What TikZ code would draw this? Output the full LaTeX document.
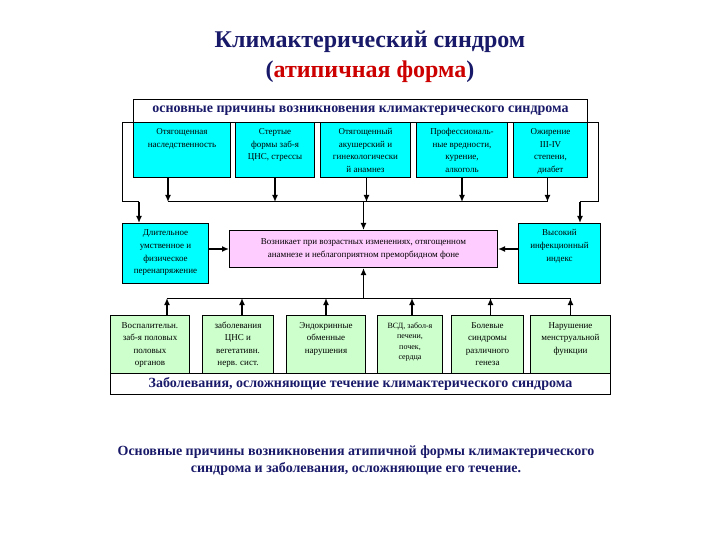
\documentclass[tikz,border=0pt]{standalone}
\usepackage{fontspec}
\setmainfont{Liberation Serif}
\usetikzlibrary{arrows.meta}
\definecolor{navy}{RGB}{25,25,105}
\definecolor{ttlred}{RGB}{205,0,0}
\definecolor{cyanbox}{RGB}{0,255,255}
\definecolor{pinkbox}{RGB}{255,204,255}
\definecolor{greenbox}{RGB}{204,255,204}
\newcommand\tb[3]{\parbox[t][\dimexpr#2pt-6pt\relax][t]{#1pt}{\centering\rule{0pt}{9.5pt}#3}}
\begin{document}
\begin{tikzpicture}[x=1pt,y=-1pt,line width=1pt,>={Latex[length=7pt,width=6pt]},
  every node/.style={inner sep=0pt,font=\fontsize{9}{12.5}\selectfont},
  bx/.style={draw,anchor=north west,inner xsep=0pt,inner ysep=3pt},
  cb/.style={bx,fill=cyanbox},
  gb/.style={bx,fill=greenbox},
  ar/.style={->,line width=1.6pt},
  ttl/.style={font=\fontsize{14}{17}\selectfont\bfseries,text=navy}]
\useasboundingbox (0,0) rectangle (720,540);
% title
\node[font=\fontsize{24}{30}\selectfont\bfseries,text=navy,align=center] (t) at (370,57)
  {Климактерический синдром\\(\textcolor{ttlred}{атипичная форма})};
% causes
\node[draw,ttl,minimum width=454,minimum height=23,anchor=north west] (hd) at (133,99)
  {основные причины возникновения климактерического синдрома};
\node[cb] (c1) at (133,122) {\tb{97}{55}{Отягощенная\\наследственность}};
\node[cb] (c2) at (235,122) {\tb{79}{55}{Стертые\\формы заб-я\\ЦНС, стрессы}};
\node[cb] (c3) at (320,122) {\tb{90}{55}{Отягощенный\\акушерский и\\гинекологически\\й анамнез}};
\node[cb] (c4) at (416,122) {\tb{91}{55}{Профессиональ-\\ные вредности,\\курение,\\алкоголь}};
\node[cb] (c5) at (513,122) {\tb{74}{55}{Ожирение\\III-IV\\степени,\\диабет}};
\node[cb] (lb) at (122,223) {\tb{86}{60}{Длительное\\умственное и\\физическое\\перенапряжение}};
\node[cb] (rb) at (518,223) {\tb{82}{60}{Высокий\\инфекционный\\индекс}};
\node[draw,fill=pinkbox,minimum width=268,minimum height=37,align=center,anchor=north west] (pk) at (229,230)
  {Возникает при возрастных изменениях, отягощенном\\анамнезе и неблагоприятном преморбидном фоне};
% diseases
\node[gb] (g1) at (110,315) {\tb{79}{58}{Воспалительн.\\заб-я половых\\половых\\органов}};
\node[gb] (g2) at (202,315) {\tb{71}{58}{заболевания\\ЦНС и\\вегетативн.\\нерв. сист.}};
\node[gb] (g3) at (286,315) {\tb{79}{58}{Эндокринные\\обменные\\нарушения}};
\node[gb] (g4) at (377,315) {\tb{65}{58}{\fontsize{8}{10.5}\selectfont ВСД, забол-я\\печени,\\почек,\\сердца}};
\node[gb] (g5) at (451,315) {\tb{72}{58}{Болевые\\синдромы\\различного\\генеза}};
\node[gb] (g6) at (530,315) {\tb{80}{58}{Нарушение\\менструальной\\функции}};
\node[draw,ttl,minimum width=500,minimum height=21,anchor=north west] (ft) at (110,373)
  {Заболевания, осложняющие течение климактерического синдрома};
\node[ttl,align=center] (cap) at (356,461)
  {Основные причины возникновения атипичной формы климактерического\\синдрома и заболевания, осложняющие его течение.};
% connectors
\coordinate (bt) at (0,202);
\coordinate (bb) at (0,298);
\foreach \n/\d in {c1/-14,c2/0,c3/1,c4/0,c5/-3}
  \draw[ar] ([xshift=\d]\n.south) -- ([xshift=\d]\n.south |- bt);
\draw ([xshift=-14]c1.south |- bt) -- ([xshift=-3]c5.south |- bt);
\draw[ar] (pk.north |- bt) -- (pk.north);
\draw (hd.south west) -| (122,202) -- (139,202);
\draw[ar] (139,202) -- (139,202 |- lb.north);
\draw (hd.south east) -| (598,202) -- (580,202);
\draw[ar] (580,202) -- (580,202 |- rb.north);
\draw[ar] (lb.east |- pk.west) -- (pk.west);
\draw[ar] (rb.west |- pk.east) -- (pk.east);
\foreach \n/\d in {g1/17,g2/4,g3/0,g4/2,g5/3,g6/0}
  \draw[ar] ([xshift=\d]\n.north) -- ([xshift=\d]\n.north |- bb);
\draw ([xshift=17]g1.north |- bb) -- (g6.north |- bb);
\draw[ar] (pk.south |- bb) -- (pk.south);
\end{tikzpicture}
\end{document}
